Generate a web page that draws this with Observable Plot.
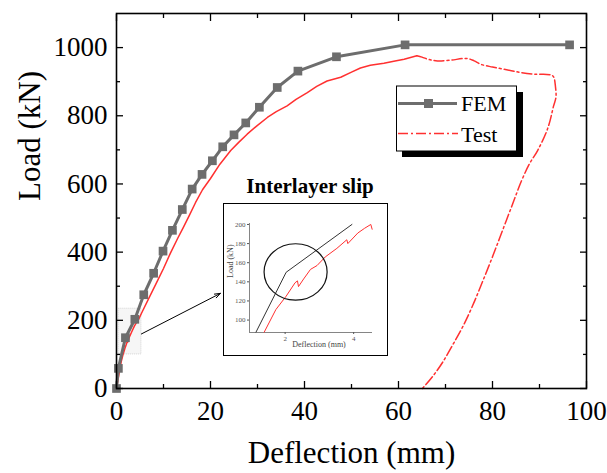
<!DOCTYPE html>
<html><head><meta charset="utf-8">
<script src="https://cdn.jsdelivr.net/npm/d3@7"></script>
<script src="https://cdn.jsdelivr.net/npm/@observablehq/plot@0.6"></script>
<style>
html,body{margin:0;padding:0;background:#fff;}
#wrap{position:relative;width:607px;height:473px;overflow:hidden;}
#wrap svg{display:block;}
#inset{position:absolute;left:223px;top:203px;width:165px;height:153px;box-sizing:border-box;border:1.5px solid #000;background:#fff;}
.ov{position:absolute;left:0;top:0;pointer-events:none;}
</style></head><body><div id="wrap"></div>
<script>
// ---- Data ----
const femDeflection = [0, 0.4, 1.9, 3.9, 5.8, 7.9, 9.9, 11.9, 14.0, 16.1, 18.2, 20.4, 22.6, 25.0, 27.5, 30.4, 34.2, 38.6, 46.8, 61.4, 96.4];
const femLoad       = [0, 59, 149, 203, 275, 338, 403, 464, 525, 585, 628, 668, 709, 744, 779, 825, 883, 931, 973, 1008, 1008];

const testDeflection = [0, 0.5, 1.0, 1.4, 1.8, 2.1, 2.35, 2.4, 2.55, 2.8, 3.2, 3.8, 4.3, 4.6, 5.5, 7.0, 8.5, 10.0, 11.5, 13.0, 14.2, 15.5, 16.8, 18.3, 20.0, 22.0, 24.3, 26.0, 27.8, 30.0, 32.1, 34.0, 36.3, 38.2, 40.6, 42.6, 44.8, 47.7, 50.0, 51.9, 54.0, 56.9, 59.0, 61.2, 63.9,
  65.0, 66.5, 68.3, 71.0, 74.6, 76.1, 77.5, 80.0, 83.0, 86.0, 89.0, 92.4, 93.0, 93.4, 93.5, 93.0, 91.8, 89.6, 87.9, 86.2, 84.3, 82.2, 80.1, 77.9, 75.8, 73.7, 71.5, 69.4, 67.3, 65.1];
const testLoad = [0, 40, 78, 100, 118, 130, 141, 136, 143, 153, 165, 183, 195, 200, 226, 268, 310, 352, 398, 440, 472, 508, 545, 583, 616, 658, 698, 722, 746, 772, 795, 812, 829, 848, 868, 886, 902, 913, 928, 940, 948, 954, 960, 966, 976,
  972, 965, 961, 963, 968, 961, 951, 943, 935, 927, 922, 920, 914, 885, 854, 829, 765, 698, 660, 610, 542, 466, 390, 314, 244, 182, 127, 77, 36, 0];

// inset (zoom on the interlayer slip)
const insetFemDeflection = [1.15, 2.03, 3.95];
const insetFemLoad = [87.4, 150, 200];
const insetTestDeflection = [1.39, 1.73, 2.03, 2.29, 2.36, 2.39, 2.54, 2.74, 2.93, 3.17, 3.51, 3.80, 3.83, 4.12, 4.32, 4.50, 4.54];
const insetTestLoad = [87.4, 111, 125, 139, 141, 135, 143, 153, 157, 166, 175, 184, 180, 191, 196, 200, 195];
const insetEllipse = {x: 2.32, y: 149.8, rx: 0.92, ry: 29.5};

// zoom region marked on the main chart and the pointer to the inset
const zoomBox = [{x1: 0.5, x2: 5.3, y1: 100, y2: 234}];
const pointer = [{x1: 5.3, y1: 160, x2: 22.1, y2: 279}];

const xMajor = [0, 20, 40, 60, 80, 100];
const xMinor = [10, 30, 50, 70, 90];
const yMajor = [0, 200, 400, 600, 800, 1000];
const yMinor = [100, 300, 500, 700, 900];
const insetXTicks = [2, 4];
const insetYTicks = [100, 120, 140, 160, 180, 200];

const seriesNames = ["FEM", "Test"];

// ---- Build ----
const fem = femDeflection.map((d, i) => ({x: d, y: femLoad[i]}));
const test = testDeflection.map((d, i) => ({x: d, y: testLoad[i]}));
const peak = d3.maxIndex(testLoad);
const testRise = test.slice(0, peak + 1);
const testFall = test.slice(peak);
const RED = "#ff3030", GRAY = "#6d6d6d";
const serif = "'Liberation Serif','Times New Roman',serif";
const fmt = d3.format("d");

const main = Plot.plot({
  width: 607, height: 473,
  marginLeft: 116, marginRight: 21, marginTop: 13, marginBottom: 85,
  x: {domain: [0, 100]},
  y: {domain: [0, 1100]},
  style: {fontFamily: serif, fontSize: "27px", color: "#000", background: "#fff"},
  marks: [
    Plot.rect(zoomBox, {x1: "x1", x2: "x2", y1: "y1", y2: "y2", fill: "#eeeeee", fillOpacity: 0.5, stroke: "#cccccc", strokeWidth: 0.8, strokeDasharray: "1,1"}),
    Plot.line(testRise, {x: "x", y: "y", stroke: RED, strokeWidth: 1.5}),
    Plot.line(testFall, {x: "x", y: "y", stroke: RED, strokeWidth: 1.5, strokeDasharray: "10,3,2,3", curve: "catmull-rom"}),
    Plot.line(fem, {x: "x", y: "y", stroke: GRAY, strokeWidth: 3}),
    Plot.dot(fem, {x: "x", y: "y", symbol: "square", r: 4.9, fill: GRAY}),
    Plot.arrow(pointer, {x1: "x1", y1: "y1", x2: "x2", y2: "y2", stroke: "#000", strokeWidth: 1, headLength: 9, headAngle: 40}),
    Plot.frame({stroke: "#000", strokeWidth: 1.6}),
    Plot.axisX(xMajor, {anchor: "bottom", tickSize: 0, tickPadding: 12, fontSize: 27, label: null, tickFormat: fmt}),
    Plot.axisX(xMajor, {anchor: "bottom", tickSize: -7, tickFormat: () => "", label: null, strokeWidth: 1.3}),
    Plot.axisX(xMinor, {anchor: "bottom", tickSize: -4, tickFormat: () => "", label: null, strokeWidth: 1.3}),
    Plot.axisX(xMajor, {anchor: "top", tickSize: -7, tickFormat: () => "", label: null, strokeWidth: 1.3}),
    Plot.axisX(xMinor, {anchor: "top", tickSize: -4, tickFormat: () => "", label: null, strokeWidth: 1.3}),
    Plot.axisY(yMajor, {anchor: "left", tickSize: 0, tickPadding: 9, fontSize: 27, label: null, tickFormat: fmt}),
    Plot.axisY(yMajor, {anchor: "left", tickSize: -7, tickFormat: () => "", label: null, strokeWidth: 1.3}),
    Plot.axisY(yMinor, {anchor: "left", tickSize: -4, tickFormat: () => "", label: null, strokeWidth: 1.3}),
    Plot.axisY(yMajor, {anchor: "right", tickSize: -7, tickFormat: () => "", label: null, strokeWidth: 1.3}),
    Plot.axisY(yMinor, {anchor: "right", tickSize: -4, tickFormat: () => "", label: null, strokeWidth: 1.3}),
    Plot.text(["Deflection (mm)"], {frameAnchor: "bottom", dy: 65, fontSize: 31, lineAnchor: "middle"}),
    Plot.text(["Load (kN)"], {frameAnchor: "left", dx: -86, rotate: -90, fontSize: 31, lineAnchor: "middle"})
  ]
});

const wrap = document.getElementById("wrap");
wrap.appendChild(main);

// inset chart
const insetDiv = document.createElement("div");
insetDiv.id = "inset";
wrap.appendChild(insetDiv);
const ifem = insetFemDeflection.map((d, i) => ({x: d, y: insetFemLoad[i]}));
const itest = insetTestDeflection.map((d, i) => ({x: d, y: insetTestLoad[i]}));
const insetChart = Plot.plot({
  width: 162, height: 150,
  marginLeft: 25, marginTop: 19, marginRight: 14, marginBottom: 22,
  x: {domain: [0.96, 4.55]},
  y: {domain: [87, 201]},
  style: {fontFamily: serif, fontSize: "7px", color: "#555", background: "#fff"},
  marks: [
    Plot.ruleX([0.96], {stroke: "#666", strokeWidth: 0.8}),
    Plot.ruleY([87], {stroke: "#666", strokeWidth: 0.8}),
    Plot.axisY(insetYTicks, {anchor: "left", tickSize: 2, tickPadding: 2, label: null, fontSize: 7}),
    Plot.axisX(insetXTicks, {anchor: "bottom", tickSize: 2, tickPadding: 2, label: null, fontSize: 7}),
    Plot.line(ifem, {x: "x", y: "y", stroke: "#333", strokeWidth: 1}),
    Plot.line(itest, {x: "x", y: "y", stroke: RED, strokeWidth: 1}),
    Plot.text(["Deflection (mm)"], {frameAnchor: "bottom", dy: 14, dx: 8, fontSize: 8, fill: "#444"}),
    Plot.text(["Load (kN)"], {frameAnchor: "left", dx: -19, rotate: -90, fontSize: 8, fill: "#444"})
  ]
});
insetDiv.appendChild(insetChart);
// ellipse highlighting the slip, positioned with the inset's scales
const sx = insetChart.scale("x"), sy = insetChart.scale("y");
const NS = "http://www.w3.org/2000/svg";
const ell = document.createElementNS(NS, "ellipse");
ell.setAttribute("cx", sx.apply(insetEllipse.x));
ell.setAttribute("cy", sy.apply(insetEllipse.y));
ell.setAttribute("rx", Math.abs(sx.apply(insetEllipse.x + insetEllipse.rx) - sx.apply(insetEllipse.x)));
ell.setAttribute("ry", Math.abs(sy.apply(insetEllipse.y + insetEllipse.ry) - sy.apply(insetEllipse.y)));
ell.setAttribute("fill", "none");
ell.setAttribute("stroke", "#111");
ell.setAttribute("stroke-width", "1.2");
insetChart.appendChild(ell);

// legend + annotation title overlay
const ov = d3.select(wrap).append("svg").attr("class", "ov").attr("width", 607).attr("height", 473);
ov.append("rect").attr("x", 402).attr("y", 92).attr("width", 121).attr("height", 65).attr("fill", "#000");
ov.append("rect").attr("x", 396.5).attr("y", 86).attr("width", 120).attr("height", 65).attr("fill", "#fff").attr("stroke", "#000").attr("stroke-width", 1);
ov.append("line").attr("x1", 398).attr("x2", 457).attr("y1", 103.5).attr("y2", 103.5).attr("stroke", GRAY).attr("stroke-width", 3);
ov.append("rect").attr("x", 424).attr("y", 99).attr("width", 9).attr("height", 9).attr("fill", GRAY);
ov.append("line").attr("x1", 398).attr("x2", 458).attr("y1", 133.5).attr("y2", 133.5).attr("stroke", RED).attr("stroke-width", 1.5).attr("stroke-dasharray", "10,3,2,3");
ov.append("text").attr("x", 461).attr("y", 111).attr("font-family", serif).attr("font-size", 22).text(seriesNames[0]);
ov.append("text").attr("x", 461).attr("y", 142).attr("font-family", serif).attr("font-size", 22).text(seriesNames[1]);
ov.append("text").attr("x", 310).attr("y", 193).attr("text-anchor", "middle").attr("font-family", serif).attr("font-weight", "bold").attr("font-size", 21).text("Interlayer slip");
</script>
</body></html>
